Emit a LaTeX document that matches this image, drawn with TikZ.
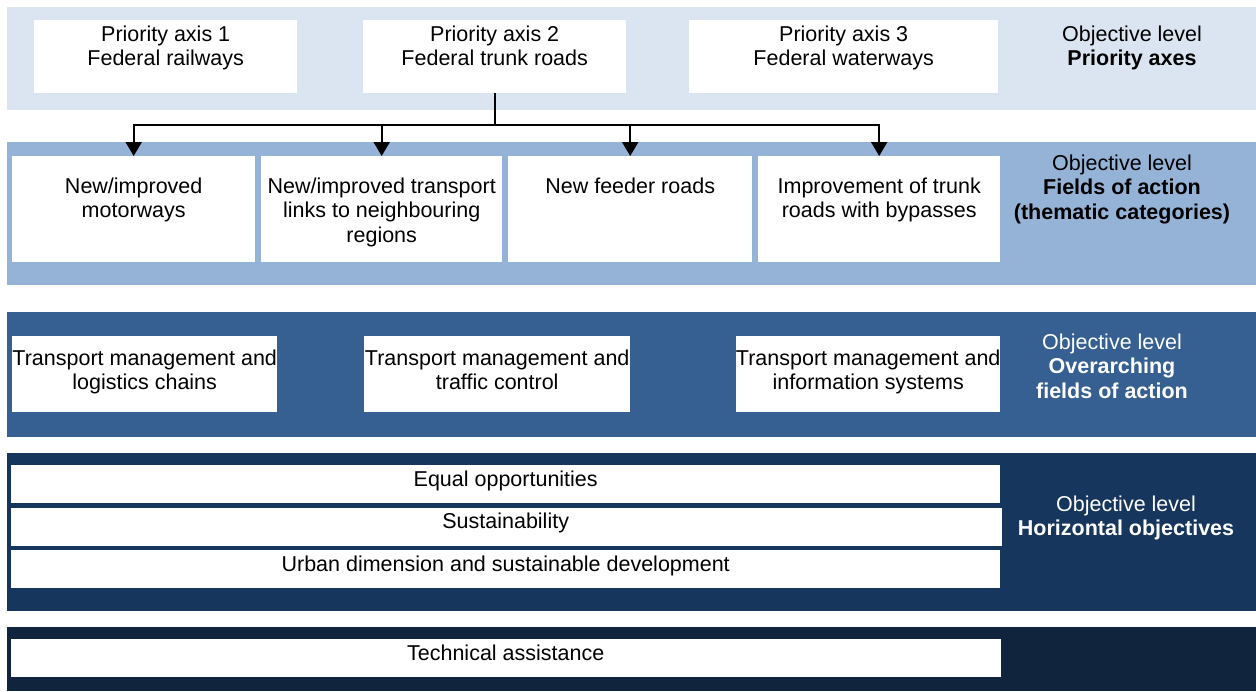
\documentclass[tikz,border=0pt]{standalone}
\usepackage{fontspec}
\setmainfont{Liberation Sans}
\usetikzlibrary{arrows.meta}
\definecolor{bandA}{HTML}{DBE5F1}
\definecolor{bandB}{HTML}{95B3D7}
\definecolor{bandC}{HTML}{366092}
\definecolor{bandD}{HTML}{17365D}
\definecolor{bandE}{HTML}{10243E}
\newcommand{\diagfont}{\fontsize{21.5}{24.5}\selectfont}
% text nodes are placed by the baseline of their last line
\tikzset{
  panel/.style={fill=white, draw=none, inner sep=0pt, anchor=north west},
  txt/.style={font=\diagfont, align=center, anchor=base, inner sep=0pt},
  lvltxt/.style={txt},
  lvlwhite/.style={txt, text=white},
  feed/.style={line width=2pt, -{Triangle[width=16pt,length=14pt]}},
  trunk/.style={line width=2pt},
}
\begin{document}
\begin{tikzpicture}[x=1pt,y=-1pt]
\useasboundingbox (0,0) rectangle (1256,691);
\fill[white] (0,0) rectangle (1256,691);

% level bands
\fill[bandA] (7,7) rectangle (1256,110);
\fill[bandB] (7,142) rectangle (1256,285);
\fill[bandC] (7,312) rectangle (1256,437);
\fill[bandD] (7,453) rectangle (1256,611);
\fill[bandE] (7,627) rectangle (1256,691);

% priority axes
\node[panel, minimum width=263pt, minimum height=73pt] (p1) at (34,20) {};
\node[panel, minimum width=263pt, minimum height=73pt] (p2) at (363,20) {};
\node[panel, minimum width=309pt, minimum height=73pt] (p3) at (689,20) {};
\node[txt] (p1t) at (p1.north |- 0,65.5) {Priority axis 1\\Federal railways};
\node[txt] (p2t) at (p2.north |- 0,65.5) {Priority axis 2\\Federal trunk roads};
\node[txt] (p3t) at (p3.north |- 0,65.5) {Priority axis 3\\Federal waterways};
\node[lvltxt] (l1) at (1132,65.5) {Objective level\\\textbf{Priority axes}};

% fields of action
\node[panel, minimum width=243pt, minimum height=106pt] (f1) at (12,156) {};
\node[panel, minimum width=241pt, minimum height=106pt] (f2) at (261,156) {};
\node[panel, minimum width=244pt, minimum height=106pt] (f3) at (508,156) {};
\node[panel, minimum width=242pt, minimum height=106pt] (f4) at (758,156) {};
\node[txt] (f1t) at (f1.north |- 0,217.5) {New/improved\\motorways};
\node[txt] (f2t) at (f2.north |- 0,242) {New/improved transport\\links to neighbouring\\regions};
\node[txt] (f3t) at (f3.north |- 0,193) {New feeder roads};
\node[txt] (f4t) at (f4.north |- 0,217.5) {Improvement of trunk\\roads with bypasses};
\node[lvltxt] (l2) at (1122,219) {Objective level\\\textbf{Fields of action}\\\textbf{(thematic categories)}};

% connectors from priority axis 2
\coordinate (junction) at (p2.south |- 0,125);
\draw[trunk] (p2.south) -- (junction);
\draw[feed] (junction) -| (f1.north);
\draw[feed] (junction) -| (f2.north);
\draw[feed] (junction) -| (f3.north);
\draw[feed] (junction) -| (f4.north);

% overarching fields of action
\node[panel, minimum width=265pt, minimum height=76pt] (o1) at (12,336) {};
\node[panel, minimum width=266pt, minimum height=76pt] (o2) at (364,336) {};
\node[panel, minimum width=264pt, minimum height=76pt] (o3) at (736,336) {};
\node[txt] (o1t) at (o1.north |- 0,389.5) {Transport management and\\logistics chains};
\node[txt] (o2t) at (o2.north |- 0,389.5) {Transport management and\\traffic control};
\node[txt] (o3t) at (o3.north |- 0,389.5) {Transport management and\\information systems};
\node[lvlwhite] (l3) at (1112,398) {Objective level\\\textbf{Overarching}\\\textbf{fields of action}};

% horizontal objectives
\node[panel, minimum width=989pt, minimum height=38pt] (h1) at (11,465) {};
\node[panel, minimum width=991pt, minimum height=38pt] (h2) at (11,508) {};
\node[panel, minimum width=989pt, minimum height=38pt] (h3) at (11,550) {};
\node[txt] (h1t) at (h1.north |- 0,486) {Equal opportunities};
\node[txt] (h2t) at (h1.north |- 0,528) {Sustainability};
\node[txt] (h3t) at (h1.north |- 0,571) {Urban dimension and sustainable development};
\node[lvlwhite] (l4) at (1126,535.5) {Objective level\\\textbf{Horizontal objectives}};

% technical assistance
\node[panel, minimum width=990pt, minimum height=38pt] (ta) at (11,639) {};
\node[txt] (tat) at (h1.north |- 0,660) {Technical assistance};
\end{tikzpicture}
\end{document}
